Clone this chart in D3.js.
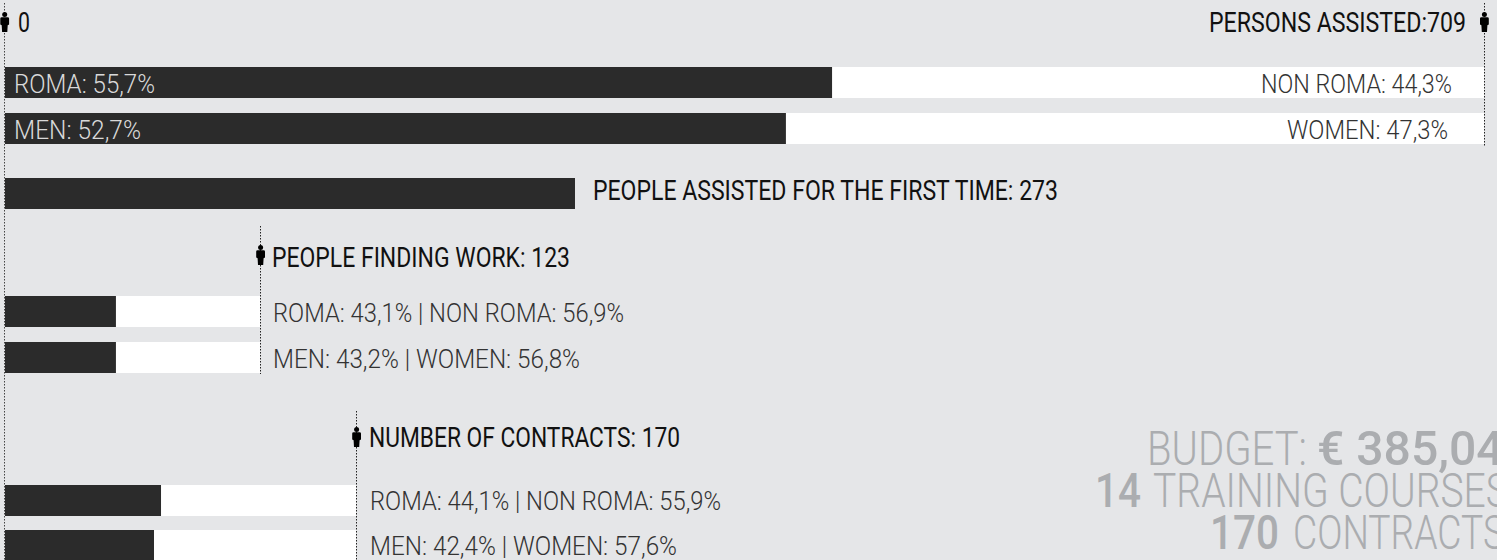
<!DOCTYPE html>
<html>
<head>
<meta charset="utf-8">
<script src="https://cdn.jsdelivr.net/npm/d3@7"></script>
<style>
html, body { margin: 0; padding: 0; background: #e5e6e8; overflow: hidden; }
text { font-family: Roboto, sans-serif; }
</style>
</head>
<body>
<script>
// values as printed on the chart
var personsTotal = 709;
var groupNames = ["assisted", "finding", "contracts"];
var groupCounts = [709, 123, 170];
var firstTimeCount = 273;

// dark share of each split bar (printed label is rounded differently)
var assistedShares = [55.92, 52.8];
var findingShares = [43.5, 43.5];
var contractShares = [44.45, 42.45];

var assistedLeft = ["ROMA: 55,7%", "MEN: 52,7%"];
var assistedRight = ["NON ROMA: 44,3%", "WOMEN: 47,3%"];
var findingLabels = ["ROMA: 43,1% | NON ROMA: 56,9%", "MEN: 43,2% | WOMEN: 56,8%"];
var contractLabels = ["ROMA: 44,1% | NON ROMA: 55,9%", "MEN: 42,4% | WOMEN: 57,6%"];

var w = 1497, h = 560;
var svg = d3.select("body").append("svg")
    .attr("width", w)
    .attr("height", h)
    .style("display", "block");

svg.append("rect").attr("width", w).attr("height", h).attr("fill", "#e5e6e8");

var x = d3.scaleLinear().domain([0, personsTotal]).range([5, 1484]);
var barH = 31;

function label(px, py, str, size, weight, color, len, anchor) {
    var t = svg.append("text")
        .attr("x", px)
        .attr("y", py)
        .attr("font-size", size)
        .attr("font-weight", weight)
        .attr("fill", color)
        .attr("text-anchor", anchor || "start")
        .text(str);
    if (len) {
        t.attr("textLength", len).attr("lengthAdjust", "spacingAndGlyphs");
    }
    return t;
}

function guide(px, y0, y1, color) {
    svg.append("line")
        .attr("x1", px).attr("x2", px)
        .attr("y1", y0).attr("y2", y1)
        .attr("stroke", color || "#222")
        .attr("stroke-width", 1)
        .attr("stroke-dasharray", "1.5,1.5");
}

function person(cx, top) {
    var g = svg.append("g").attr("transform", "translate(" + cx + "," + top + ")").attr("fill", "#000");
    g.append("circle").attr("cx", 0).attr("cy", 2.4).attr("r", 2.5);
    g.append("path").attr("d", "M-3,5.2 L3,5.2 Q4.4,5.2 4.4,6.6 L4.4,12.6 L3,13.2 L2.6,20 L-2.6,20 L-3,13.2 L-4.4,12.6 L-4.4,6.6 Q-4.4,5.2 -3,5.2 Z");
}

function splitBars(shares, ys, right) {
    var share = d3.scaleLinear().domain([0, 100]).range([x(0), right]);
    svg.selectAll(null).data(shares).enter().append("rect")
        .attr("x", x(0))
        .attr("y", function (d, i) { return ys[i]; })
        .attr("width", right - x(0))
        .attr("height", barH)
        .attr("fill", "#fff");
    svg.selectAll(null).data(shares).enter().append("rect")
        .attr("x", x(0))
        .attr("y", function (d, i) { return ys[i]; })
        .attr("width", function (d) { return share(d) - x(0); })
        .attr("height", barH)
        .attr("fill", "#2b2b2b");
}

// group ends
var findingEnd = 260;
var contractEnd = 356;

guide(4.5, 3, 560, "#444");
guide(1484.5, 3, 146);
guide(260.5, 226, 374);
guide(356.5, 411, 560);

splitBars(assistedShares, [67, 113], x(personsTotal));
splitBars(findingShares, [296, 342], findingEnd);
splitBars(contractShares, [485, 530], contractEnd);

svg.append("rect")
    .attr("x", x(0))
    .attr("y", 178)
    .attr("width", x(firstTimeCount) - x(0) + 0.5)
    .attr("height", barH)
    .attr("fill", "#2b2b2b");

person(4.7, 12);
person(1484.4, 12);
person(260.6, 245);
person(356.6, 427);

var black = "#111", thin = "#333", pale = "#d9d9d9", budget = "#abadb0";

label(18, 32, "0", 27, 400, black, 12);
label(1209, 32, "PERSONS ASSISTED:" + groupCounts[0], 27, 400, black, 257);

label(14, 92.7, assistedLeft[0], 26, 300, pale, 141);
label(14, 138.5, assistedLeft[1], 26, 300, pale, 127);
label(1261, 92.7, assistedRight[0], 26, 300, thin, 191);
label(1287, 138.5, assistedRight[1], 26, 300, thin, 161);

label(593, 199.5, "PEOPLE ASSISTED FOR THE FIRST TIME: " + firstTimeCount, 27, 400, black, 465);

label(272, 266.7, "PEOPLE FINDING WORK: " + groupCounts[1], 27, 400, black, 298);
label(273, 321.7, findingLabels[0], 26, 300, thin, 351);
label(273, 367.7, findingLabels[1], 26, 300, thin, 307);

label(369, 446.7, "NUMBER OF CONTRACTS: " + groupCounts[2], 27, 400, black, 311);
label(370, 510, contractLabels[0], 26, 300, thin, 351);
label(370, 555, contractLabels[1], 26, 300, thin, 307);

label(1147, 465, "BUDGET:", 48, 300, budget, 160);
label(1317, 465, "€ 385,042", 48, 500, budget, 214);
label(1095, 507, "14", 48, 500, budget, 46);
label(1153, 507, "TRAINING COURSES", 48, 300, budget, 356);
label(1210, 549, "170", 48, 500, budget, 69);
label(1293, 549, "CONTRACTS", 48, 300, budget, 212);
</script>
</body>
</html>
